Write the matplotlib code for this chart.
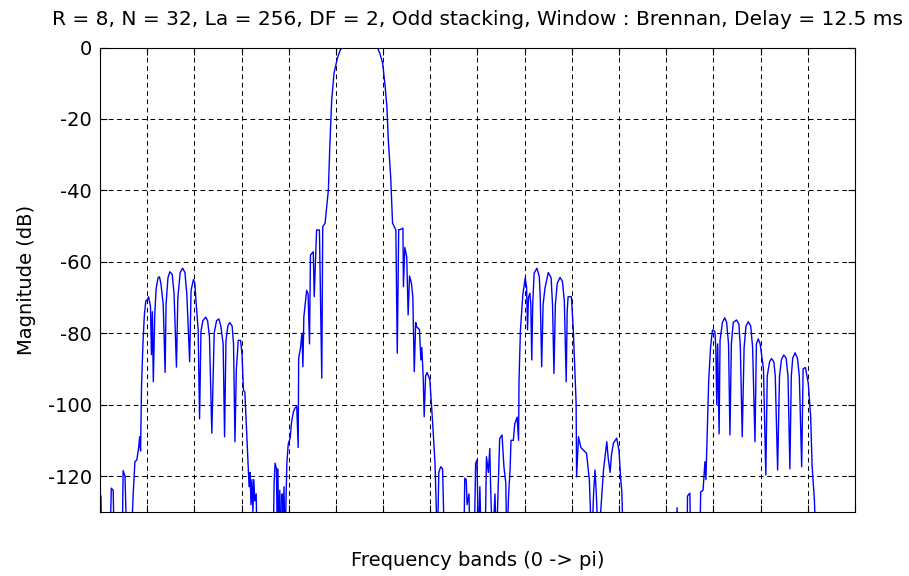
import numpy as np
import matplotlib.pyplot as plt

# frequency axis in band units (16 bands span 0 -> pi), magnitude in dB
band = [
    0.02, 0.04, 0.21, 0.24, 0.28, 0.30, 0.47, 0.49, 0.53, 0.57, 0.61, 0.66, 0.70,
    0.74, 0.78, 0.82, 0.84, 0.86, 0.88, 0.91, 0.94, 0.97, 1.01, 1.03, 1.07, 1.09,
    1.11, 1.13, 1.16, 1.19, 1.23, 1.26, 1.29, 1.34, 1.38, 1.40, 1.44, 1.48, 1.53,
    1.57, 1.62, 1.65, 1.70, 1.75, 1.80, 1.84, 1.90, 1.93, 1.98, 2.01, 2.04, 2.08,
    2.11, 2.14, 2.18, 2.24, 2.28, 2.32, 2.37, 2.42, 2.47, 2.52, 2.56, 2.61, 2.64,
    2.67, 2.71, 2.75, 2.80, 2.83, 2.86, 2.89, 2.93, 2.98, 3.01, 3.04, 3.07, 3.11,
    3.14, 3.16, 3.18, 3.20, 3.22, 3.24, 3.26, 3.28, 3.31, 3.33,
    3.67, 3.69, 3.71, 3.74, 3.75, 3.77, 3.79, 3.81, 3.84, 3.86, 3.88, 3.90, 3.92,
    3.96, 3.99, 4.03, 4.06, 4.10, 4.13, 4.17, 4.20, 4.21, 4.25, 4.28, 4.30, 4.32,
    4.38, 4.41, 4.44, 4.46, 4.52, 4.54, 4.59, 4.65, 4.68, 4.70, 4.72, 4.77, 4.82,
    4.84, 4.87, 4.91, 4.96, 5.03, 5.09, 5.14, 5.51, 5.88, 5.93, 5.99, 6.04, 6.08,
    6.11, 6.16, 6.20, 6.27, 6.30, 6.33, 6.36, 6.42, 6.43, 6.46, 6.50, 6.53, 6.56,
    6.60, 6.63, 6.66, 6.69, 6.71, 6.77, 6.80, 6.82, 6.85, 6.87, 6.90, 6.93, 6.99,
    7.05, 7.10, 7.15, 7.18, 7.22, 7.26, 7.30,
    7.71, 7.73, 7.76, 7.78, 7.82, 7.84, 7.93, 7.96, 7.99, 8.02, 8.05, 8.08, 8.16,
    8.19, 8.23, 8.26, 8.28, 8.32, 8.37, 8.40, 8.47, 8.52, 8.54, 8.56, 8.60, 8.62,
    8.66, 8.69, 8.71, 8.76, 8.79, 8.84, 8.87, 8.88, 8.91, 8.96, 9.01, 9.04, 9.06,
    9.08, 9.11, 9.13, 9.15, 9.17, 9.20, 9.26, 9.31, 9.33, 9.36, 9.39, 9.43, 9.50,
    9.56, 9.59, 9.62, 9.65, 9.69, 9.75, 9.80, 9.84, 9.88, 9.90, 9.92, 9.99, 10.03,
    10.09, 10.10, 10.14, 10.19, 10.24, 10.31, 10.37, 10.42, 10.46, 10.49, 10.52,
    10.56, 10.62, 10.67, 10.74, 10.77, 10.81, 10.84, 10.88, 10.95, 11.00, 11.03,
    11.06, 11.09,
    12.21, 12.23, 12.26, 12.44, 12.45, 12.50, 12.52, 12.71, 12.73, 12.78, 12.82,
    12.84, 12.87, 12.90, 12.94, 12.98, 13.03, 13.05, 13.07, 13.09, 13.12, 13.14,
    13.19, 13.24, 13.28, 13.32, 13.35, 13.38, 13.42, 13.49, 13.54, 13.57, 13.61,
    13.65, 13.69, 13.74, 13.79, 13.83, 13.88, 13.91, 13.95, 13.99, 14.03, 14.06,
    14.11, 14.14, 14.19, 14.23, 14.28, 14.31, 14.36, 14.40, 14.44, 14.49, 14.54,
    14.58, 14.62, 14.65, 14.68, 14.73, 14.78, 14.82, 14.87, 14.90, 14.95, 15.01,
    15.06, 15.09, 15.14, 15.17, 16.0,
]
mag_db = [
    -125.6, -140, -140, -123.4, -124, -140, -140, -118.5, -120, -140, -135, -140, -126,
    -116, -115.5, -112, -109, -113, -95, -83, -75, -71, -70.5, -69.8, -72.5, -86,
    -74, -93.6, -75, -67.5, -64.5, -64.2, -66, -72, -91, -72, -64.5, -62.8, -63.5,
    -69, -89.5, -70, -63, -61.8, -63, -69, -88, -68, -65, -66, -72, -79,
    -104, -79.5, -76.5, -75.5, -76.5, -81, -108, -80, -76.5, -76, -78, -83, -109,
    -82, -78, -77, -78, -83, -110.4, -90, -82, -82, -86, -96, -96.5, -108,
    -117, -123, -119, -128, -121, -130, -121, -127, -125, -140,
    -140, -122, -116.4, -118, -130, -118, -140, -124, -140, -125, -132, -123, -140,
    -116.4, -111, -109.4, -104.8, -102, -101, -100.5, -112, -87, -84, -80, -89.4, -75.4,
    -68, -69, -83, -58.1, -57.2, -69.8, -51.1, -51.1, -75, -92.6, -50.2, -49.2, -42.7,
    -39.9, -27.8, -14.7, -7.2, -3, -0.7, 0, 0, 0, -1.6, -4.4, -10.5, -16.6,
    -25.9, -36.2, -49.2, -51.1, -85.6, -51, -51, -50.6, -67, -56, -58.6, -74.9, -64,
    -66, -70, -90.8, -77, -78.2, -79, -87.5, -84, -92.6, -103.4, -92, -91, -93,
    -105.3, -116.5, -140, -119, -117.4, -118, -140,
    -140, -120.6, -121, -128, -125, -140, -140, -116.5, -115.5, -140, -123, -140, -140,
    -114.6, -119, -112.3, -124, -140, -125, -140, -109.5, -108.5, -113, -117.4, -122, -140,
    -125, -118.3, -110, -110, -105.4, -103.5, -110, -93.1, -79.1, -69.3, -64.6, -67, -79.1,
    -70, -68.8, -72, -87.5, -72, -63.2, -61.8, -64.2, -70, -89.4, -72, -67.4, -63,
    -64.5, -72, -91.3, -72, -66, -64.4, -65.5, -71, -93.6, -74, -69.8, -69.8, -79,
    -99.6, -120.2, -109, -112, -112.7, -113.6, -121, -140, -125, -118.3, -125.6,
    -140, -128, -118.3, -110.4, -115, -119, -114, -110.8, -109.4, -113, -120,
    -124.8, -140,
    -140, -128.9, -140, -140, -125.6, -124.8, -140, -140, -124.4, -124, -116,
    -121, -107, -93.1, -83.8, -79.1, -79.5, -84, -100, -83, -108.2, -82,
    -77, -75.7, -77, -83, -108.5, -83, -77, -76.3, -77.5, -84, -109,
    -84, -78, -76.8, -78, -84, -110.4, -83, -81.6, -83, -87, -90,
    -119.7, -92, -88, -87.1, -88, -92, -118.3, -92, -87.5, -86.1, -87,
    -92, -118, -92, -87, -85.5, -87, -92, -117.4, -90, -89.6, -94.1,
    -103.3, -117, -126.8, -140, -140,
]

yticks = [0, -20, -40, -60, -80, -100, -120]
title = 'R = 8, N = 32, La = 256, DF = 2, Odd stacking, Window : Brennan, Delay = 12.5 ms'

plt.rcParams['font.family'] = ['DejaVu Sans']

fig = plt.figure(figsize=(9.09, 5.76), dpi=100)
ax = fig.add_axes([0.110, 0.1116, 0.8306, 0.8059])

ax.plot(band, mag_db, color='#0000ff', linewidth=1.0)

ax.set_xlim(0, 16)
ax.set_ylim(-130, 0)
ax.set_xticks(np.arange(0, 17))
ax.set_xticklabels([])
ax.set_yticks(yticks)
ax.set_yticklabels([str(v) for v in yticks], fontsize=14)

ax.grid(True, color='black', linestyle=(0, (4.5, 3.5)), linewidth=0.75)
ax.tick_params(direction='in', length=5, width=0.8, top=True, right=True,
               colors='black', pad=6)
for s in ax.spines.values():
    s.set_linewidth(0.8)

ax.set_title(title, fontsize=14.5, pad=16)
ax.set_ylabel('Magnitude (dB)', fontsize=14, labelpad=8)
ax.set_xlabel('Frequency bands (0 -> pi)', fontsize=14, labelpad=22)

fig.savefig('out.png', dpi=100)
